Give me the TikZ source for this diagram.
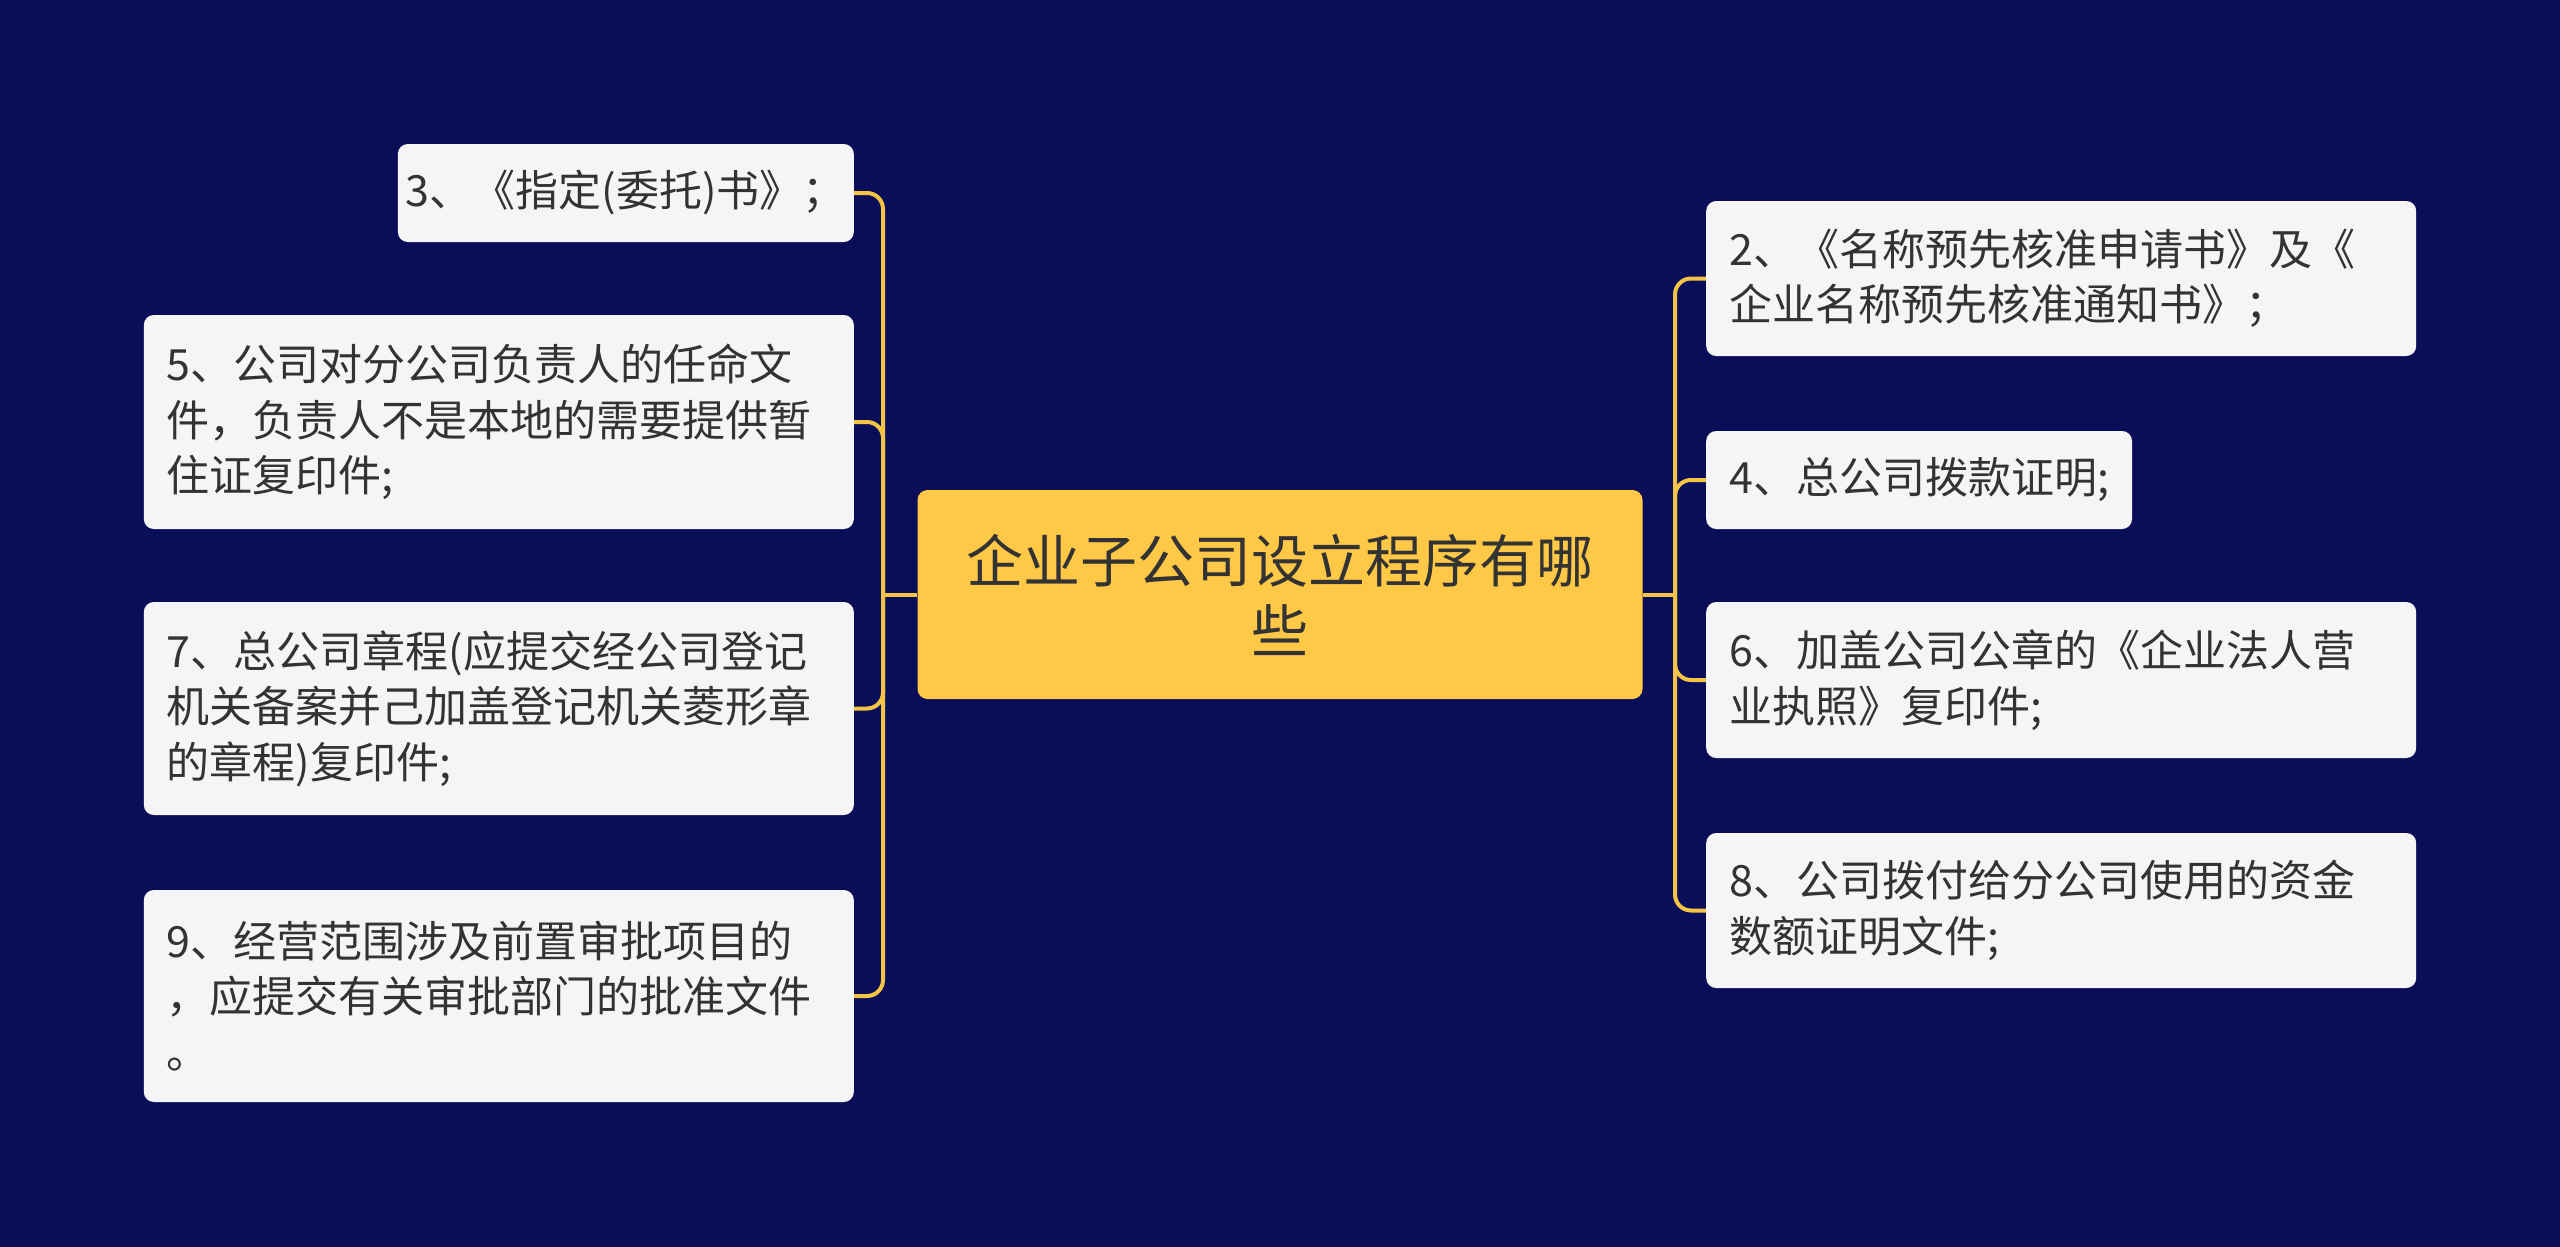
\documentclass[tikz,border=0pt]{standalone}
\usepackage{fontspec}
\setmainfont{Noto Sans CJK SC}
\usetikzlibrary{positioning}
\definecolor{NightNavy}{HTML}{0A0E59}
\definecolor{RootGold}{HTML}{FFC947}
\definecolor{LeafGrey}{HTML}{F5F5F5}
\definecolor{BranchGold}{HTML}{F4C545}
\definecolor{InkGrey}{HTML}{333333}

\begin{document}
\begin{tikzpicture}[x=1pt, y=-1pt,
    root/.style={rectangle, rounded corners=10pt, fill=RootGold, text=InkGrey,
                 align=center, minimum width=725pt, minimum height=209pt,
                 font=\fontsize{57}{70}\selectfont},
    leaf/.style={rectangle, rounded corners=10pt, fill=LeafGrey, text=InkGrey,
                 align=left, inner xsep=23pt, font=\fontsize{43}{55.5}\selectfont},
    wide/.style={leaf, text width=664pt},
    branch/.style={BranchGold, line width=4pt},
    elbow/.style={branch, rounded corners=16pt}
]
  \fill[NightNavy] (0,0) rectangle (2560,1247);
  \useasboundingbox (0,0) rectangle (2560,1247);

  \node[root] (root) at (1280,594.5) {企业子公司设立程序有哪\\些};

  % left side
  \node[leaf, inner xsep=8pt, minimum width=449pt, minimum height=98pt, anchor=east] (doc3) at (854,193)
    {3、《指定(委托)书》；};
  \node[wide, minimum height=214pt, anchor=east] (doc5) at (854,422)
    {5、公司对分公司负责人的任命文\\件，负责人不是本地的需要提供暂\\住证复印件;};
  \node[wide, minimum height=213pt, anchor=east] (doc7) at (854,708.5)
    {7、总公司章程(应提交经公司登记\\机关备案并己加盖登记机关菱形章\\的章程)复印件;};
  \node[wide, minimum height=212pt, anchor=east] (doc9) at (854,996)
    {9、经营范围涉及前置审批项目的\\，应提交有关审批部门的批准文件\\。};

  % right side
  \node[wide, minimum height=155pt, anchor=west] (doc2) at (1706,278.5)
    {2、《名称预先核准申请书》及《\\企业名称预先核准通知书》；};
  \node[leaf, minimum width=421pt, minimum height=98pt, anchor=west] (doc4) at (1706,480) {4、总公司拨款证明;};
  \node[wide, minimum height=156pt, anchor=west] (doc6) at (1706,680)
    {6、加盖公司公章的《企业法人营\\业执照》复印件;};
  \node[wide, minimum height=155pt, anchor=west] (doc8) at (1706,910.5)
    {8、公司拨付给分公司使用的资金\\数额证明文件;};

  % connectors
  \coordinate (ltrunk) at (883,594.5);
  \coordinate (rtrunk) at (1675,594.5);
  \draw[branch] (root.west) -- (ltrunk);
  \draw[branch] (root.east) -- (rtrunk);
  \foreach \n in {doc3,doc5,doc7,doc9}
    \draw[elbow] (ltrunk) |- (\n.east);
  \foreach \n in {doc2,doc4,doc6,doc8}
    \draw[elbow] (rtrunk) |- (\n.west);
\end{tikzpicture}
\end{document}
